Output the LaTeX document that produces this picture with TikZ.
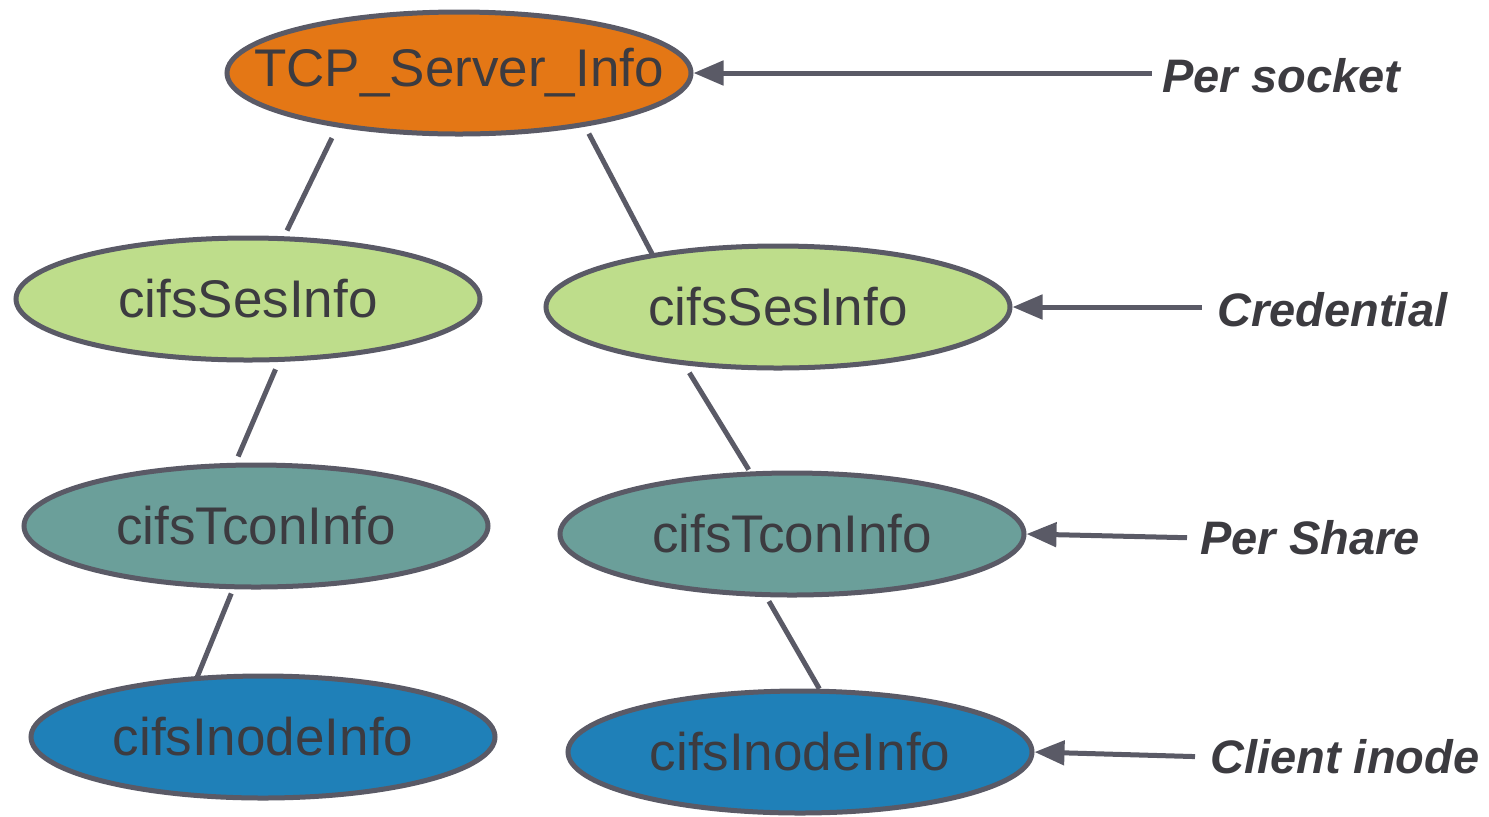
\documentclass[tikz,border=0pt]{standalone}
\usepackage{fontspec}
\setmainfont{Liberation Sans}
\usetikzlibrary{arrows.meta,shapes.geometric}

\definecolor{tcporange}{HTML}{E47715}
\definecolor{sesgreen}{HTML}{BEDD8B}
\definecolor{tconteal}{HTML}{6B9F9A}
\definecolor{inodeblue}{HTML}{1F80B8}
\definecolor{edgegray}{HTML}{5A5A66}
\definecolor{textgray}{HTML}{3C3B40}

\tikzset{
    info/.style={ellipse, draw=edgegray, line width=2.5pt, inner sep=0pt,
        minimum width=232pt, minimum height=61pt, text=textgray,
        font=\fontsize{26.5}{30}\selectfont},
    layer/.style={anchor=west, inner sep=0pt, text=textgray,
        font=\fontsize{23.5}{28}\selectfont\bfseries\itshape},
    link/.style={draw=edgegray, line width=2.5pt},
    pointer/.style={draw=edgegray, line width=2.5pt,
        {Triangle[length=15pt,width=12pt]}-},
}

\begin{document}
\begin{tikzpicture}[x=0.5pt,y=-0.5pt]
    \useasboundingbox (0,0) rectangle (1489,816);
    % structures
    \node [info, fill=tcporange] (tcp) at (459,73) {\makebox[0pt]{TCP\_Server\_Info}};
    \node [info, fill=sesgreen] (sesL) at (248,299) {\makebox[0pt]{cifsSesInfo}};
    \node [info, fill=sesgreen] (sesR) at (778,307) {\makebox[0pt]{cifsSesInfo}};
    \node [info, fill=tconteal] (tconL) at (256,526) {\makebox[0pt]{cifsTconInfo}};
    \node [info, fill=tconteal] (tconR) at (792,534) {\makebox[0pt]{cifsTconInfo}};
    \node [info, fill=inodeblue] (inodeL) at (263,737) {\makebox[0pt]{cifsInodeInfo}};
    \node [info, fill=inodeblue] (inodeR) at (800,752) {\makebox[0pt]{cifsInodeInfo}};
    % layer labels
    \node [layer] (persock) at (1162,76) {Per socket};
    \node [layer] (cred) at (1217,310) {Credential};
    \node [layer] (pershare) at (1200,538) {Per Share};
    \node [layer] (cinode) at (1210,757) {Client inode};
    % tree
    \draw [link, shorten <=6pt, shorten >=3.2pt] (tcp.204.4) -- (sesL.60.2);
    \draw [link, shorten <=4pt, shorten >=-1.7pt] (tcp.337.5) -- (sesR.157.8);
    \draw [link, shorten <=4pt, shorten >=3.4pt] (sesL.296.9) -- (tconL.108.25);
    \draw [link, shorten <=2.3pt, shorten >=-1.1pt] (tconL.250.5) -- (inodeL.137);
    \draw [link, shorten <=4.4pt, shorten >=1.1pt] (sesR.212.6) -- (tconR.124.05);
    \draw [link, shorten <=2.4pt] (tconR.248.8) -- (inodeR.73.8);
    % which level is which
    \draw [pointer, shorten >=5pt] (tcp.east) -- (tcp.east -| persock.west);
    \draw [pointer, shorten >=7.5pt] (sesR.east) -- (sesR.east -| cred.west);
    \draw [pointer, shorten >=6.5pt] (tconR.east) -- (pershare.west);
    \draw [pointer, shorten >=7.5pt] (inodeR.east) -- (cinode.west);
\end{tikzpicture}
\end{document}
